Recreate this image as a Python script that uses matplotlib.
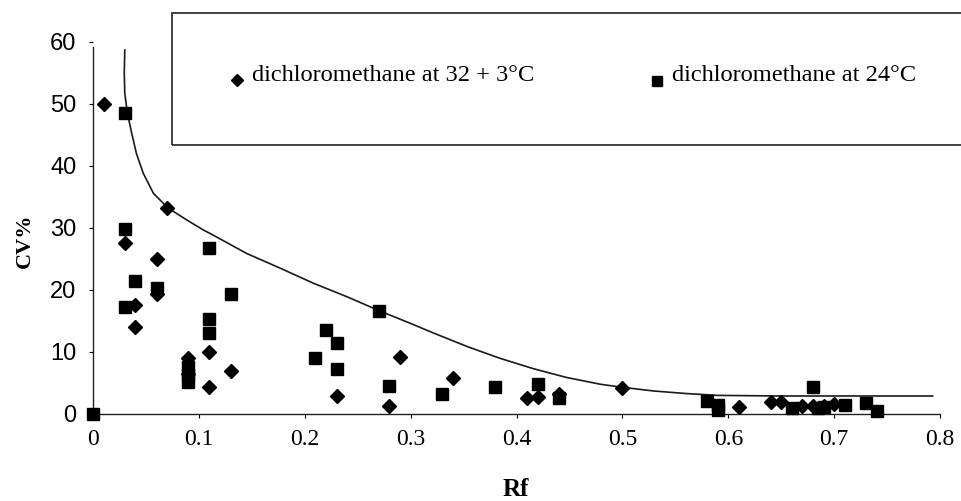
import matplotlib
matplotlib.use('Agg')
import matplotlib.pyplot as plt
from matplotlib.patches import Rectangle
from matplotlib.lines import Line2D

# CV% against Rf, dichloromethane at 32 + 3 °C (diamonds)
rf_warm = [0.01, 0.03, 0.04, 0.04, 0.06, 0.06, 0.07, 0.09, 0.09, 0.11, 0.11, 0.13,
           0.23, 0.28, 0.29, 0.34, 0.41, 0.42, 0.44, 0.50, 0.61, 0.64, 0.65, 0.67,
           0.68, 0.69, 0.70]
cv_warm = [50, 27.6, 17.5, 14.0, 25.0, 19.3, 33.2, 9.0, 6.5, 10.0, 4.4, 7.0,
           2.9, 1.3, 9.2, 5.8, 2.5, 2.8, 3.3, 4.2, 1.2, 1.9, 2.0, 1.3,
           1.3, 1.3, 1.6]

# dichloromethane at 24 °C (squares)
rf_room = [0.0, 0.03, 0.03, 0.03, 0.04, 0.06, 0.09, 0.09, 0.09, 0.11, 0.11, 0.11,
           0.13, 0.21, 0.22, 0.23, 0.23, 0.27, 0.28, 0.33, 0.38, 0.42, 0.44, 0.58,
           0.59, 0.59, 0.66, 0.68, 0.685, 0.69, 0.71, 0.73, 0.74]
cv_room = [0.0, 48.5, 29.8, 17.3, 21.5, 20.3, 7.5, 6.3, 5.1, 26.8, 15.3, 13.1,
           19.4, 9.0, 13.5, 11.4, 7.2, 16.6, 4.5, 3.2, 4.4, 4.8, 2.6, 2.1,
           1.5, 0.6, 1.0, 4.4, 1.0, 1.2, 1.5, 1.8, 0.5]

# upper envelope curve
rf_curve = [0.030, 0.0295, 0.030, 0.0325, 0.0365, 0.041, 0.0475, 0.057, 0.071,
            0.0885, 0.104, 0.114, 0.145, 0.177, 0.208, 0.240, 0.271, 0.300,
            0.321, 0.353, 0.384, 0.416, 0.447, 0.479, 0.500, 0.530, 0.560, 0.590,
            0.650, 0.720, 0.793]
cv_curve = [58.7, 55.0, 51.7, 48.5, 45.3, 42.0, 38.8, 35.6, 33.2,
            31.3, 29.7, 28.8, 25.9, 23.5, 21.1, 18.9, 16.6, 14.6,
            13.1, 10.9, 9.0, 7.3, 5.9, 4.8, 4.3, 3.7, 3.3, 3.0,
            2.9, 2.9, 2.9]

xticks = [0, 0.1, 0.2, 0.3, 0.4, 0.5, 0.6, 0.7, 0.8]
xtick_labels = ['0', '0.1', '0.2', '0.3', '0.4', '0.5', '0.6', '0.7', '0.8']
yticks = [0, 10, 20, 30, 40, 50, 60]

label_warm = 'dichloromethane at 32 + 3\u00b0C'
label_room = 'dichloromethane at 24\u00b0C'

serif = 'Liberation Serif'
sans = 'Liberation Sans'

fig = plt.figure(figsize=(9.61, 5.01), dpi=100)
ax = fig.add_axes([0.0968, 0.1737, 0.8814, 0.7425])

ax.plot(rf_curve, cv_curve, color='#1a1a1a', lw=1.2, zorder=2)
ax.plot(rf_warm, cv_warm, linestyle='none', marker='D', markersize=7.5,
        color='black', clip_on=False, zorder=3)
ax.plot(rf_room, cv_room, linestyle='none', marker='s', markersize=8.8,
        color='black', clip_on=False, zorder=3)

ax.set_xlim(0, 0.8)
ax.set_ylim(0, 60)
ax.set_xticks(xticks)
ax.set_xticklabels(xtick_labels, fontfamily=serif, fontsize=17)
ax.set_yticks(yticks)
ax.set_yticklabels([str(v) for v in yticks], fontfamily=sans, fontsize=17)
ax.tick_params(axis='x', direction='out', length=3, width=0.8, pad=8)
ax.tick_params(axis='y', direction='out', length=3, width=0.8, pad=9)

for side in ['top', 'right']:
    ax.spines[side].set_visible(False)
for side in ['left', 'bottom']:
    ax.spines[side].set_linewidth(1.0)
    ax.spines[side].set_color('#222222')
ax.spines['left'].set_bounds(0, 59.2)

fig.text(0.026, 0.52, 'CV%', rotation=90, fontfamily=serif, fontweight='bold',
         fontsize=16, ha='center', va='center')
fig.text(0.537, 0.022, 'Rf', fontfamily=serif, fontweight='bold',
         fontsize=18, ha='center', va='center')

# legend box, running off the right edge
fig.add_artist(Rectangle((0.179, 0.7106), 0.85, 0.2635, transform=fig.transFigure,
                         fill=False, edgecolor='#222222', lw=1.2, clip_on=False))
fig.add_artist(Line2D([0.2466], [0.840], transform=fig.transFigure, marker='D',
                      markersize=6, color='black', linestyle='none'))
fig.text(0.262, 0.850, label_warm, fontfamily=serif, fontsize=17.6, va='center')
fig.add_artist(Line2D([0.6837], [0.838], transform=fig.transFigure, marker='s',
                      markersize=7, color='black', linestyle='none'))
fig.text(0.699, 0.850, label_room, fontfamily=serif, fontsize=17.6, va='center')

fig.savefig('out.png', dpi=100)
